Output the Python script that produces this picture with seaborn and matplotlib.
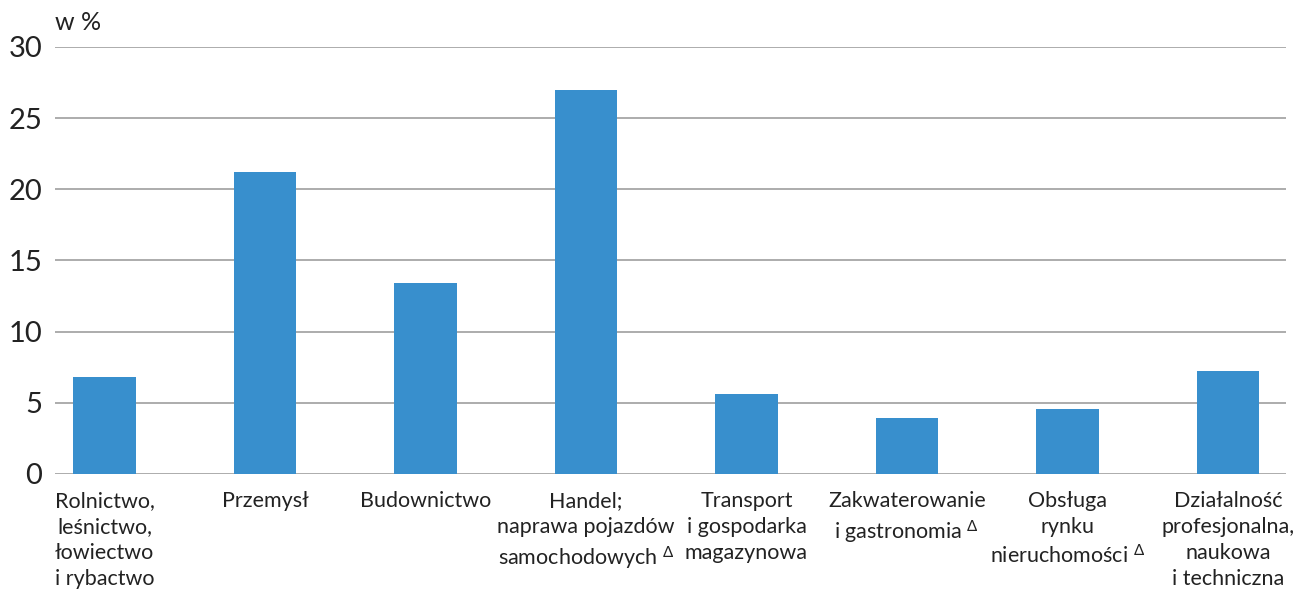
import matplotlib
matplotlib.use("Agg")
import matplotlib.pyplot as plt
import seaborn as sns
import pandas as pd

categories = [
    "Rolnictwo,\nleśnictwo,\nłowiectwo\ni rybactwo",
    "Przemysł",
    "Budownictwo",
    "Handel;\nnaprawa pojazdów\nsamochodowych $^{Δ}$",
    "Transport\ni gospodarka\nmagazynowa",
    "Zakwaterowanie\ni gastronomia $^{Δ}$",
    "Obsługa\nrynku\nnieruchomości $^{Δ}$",
    "Działalność\nprofesjonalna,\nnaukowa\ni techniczna",
]
values = [6.8, 21.2, 13.4, 27.0, 5.6, 3.9, 4.6, 7.25]
yticks = [0, 5, 10, 15, 20, 25, 30]
unit_label = "w %"

sns.set_theme(style="white")
plt.rcParams["font.family"] = ["Lato", "DejaVu Sans"]
plt.rcParams["mathtext.fontset"] = "custom"
plt.rcParams["mathtext.rm"] = "Lato"
plt.rcParams["mathtext.default"] = "regular"

text_color = "#222222"
grid_color = "#A6A6A6"
bar_color = "#388FCD"

fig = plt.figure(figsize=(13, 5.91), dpi=100)
ax = fig.add_axes([0.0423, 0.198, 0.989 - 0.0423, 0.9205 - 0.198])

df = pd.DataFrame({"cat": categories, "val": values})
sns.barplot(data=df, x="cat", y="val", color=bar_color, saturation=1,
            width=0.39, linewidth=0, ax=ax, zorder=3)

ax.set_xlim(-0.309, 7.36)
ax.set_ylim(0, 30)
ax.set_yticks(yticks)
ax.set_yticklabels([str(t) for t in yticks], fontsize=21, color=text_color)
ax.tick_params(axis="y", length=0, pad=9)
ax.tick_params(axis="x", length=0, pad=12)
for lbl in ax.get_xticklabels():
    lbl.set_fontsize(15.5)
    lbl.set_color(text_color)
    lbl.set_multialignment("center")
    lbl.set_linespacing(1.38)

ax.yaxis.grid(True, color=grid_color, linewidth=1.3, zorder=0)
ax.set_axisbelow(True)
for s in ax.spines.values():
    s.set_visible(False)
ax.set_xlabel("")
ax.set_ylabel("")

fig.text(55 / 1300, 1 - 22 / 591, unit_label, fontsize=18, color=text_color,
         va="center", ha="left")

fig.savefig("out.png", dpi=100, facecolor="white")
